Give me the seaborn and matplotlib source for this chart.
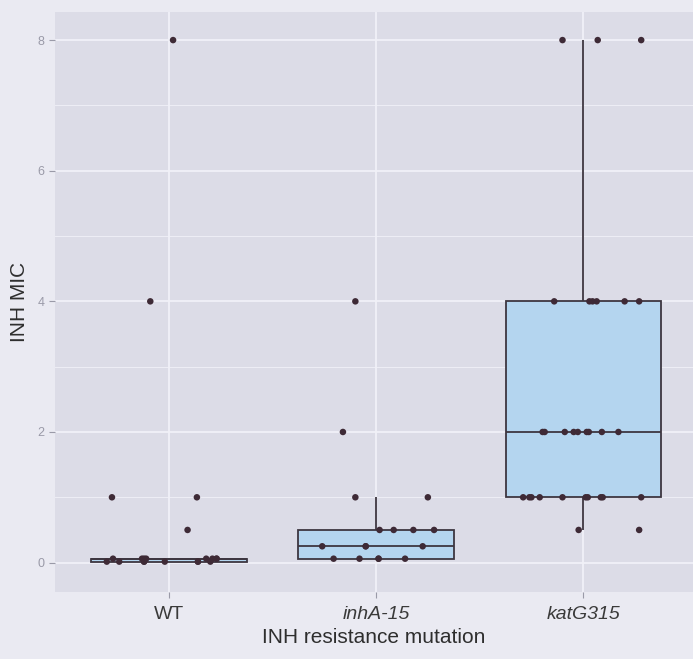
import numpy as np
import pandas as pd
import matplotlib
matplotlib.use("Agg")
import matplotlib.pyplot as plt
import seaborn as sns

# groups and the MIC values (jittered points)
groups = ["WT", "inhA-15", "katG315"]

wt_mic = [8, 4, 1, 1, 0.5,
          0.06, 0.06, 0.06, 0.06, 0.06, 0.06, 0.06, 0.06,
          0.015, 0.015, 0.015, 0.015, 0.015, 0.015, 0.015, 0.015]
wt_jitter = [0.02, -0.09, -0.275, 0.135, 0.09,
             -0.27, -0.13, -0.11, 0.18, 0.23, 0.21, -0.12, 0.23,
             -0.30, -0.24, -0.12, -0.02, 0.14, 0.20, -0.12, 0.14]

inh_mic = [4, 2, 1, 1,
           0.5, 0.5, 0.5, 0.5,
           0.25, 0.25, 0.25, 0.25,
           0.06, 0.06, 0.06, 0.06, 0.06]
inh_jitter = [-0.10, -0.16, -0.10, 0.25,
              0.017, 0.085, 0.18, 0.28,
              -0.26, -0.05, 0.225, -0.05,
              -0.205, -0.08, 0.012, 0.14, 0.012]

kat_mic = [8, 8, 8,
           4, 4, 4, 4, 4, 4,
           2, 2, 2, 2, 2, 2, 2, 2, 2,
           1, 1, 1, 1, 1, 1, 1, 1, 1, 1,
           0.5, 0.5]
kat_jitter = [-0.10, 0.07, 0.28,
              -0.14, 0.03, 0.045, 0.065, 0.20, 0.27,
              -0.196, -0.186, -0.089, -0.046, -0.026, 0.017, 0.027, 0.09, 0.17,
              -0.29, -0.26, -0.25, -0.21, -0.10, 0.012, 0.022, 0.085, 0.094, 0.28,
              -0.022, 0.27]

df = pd.DataFrame({
    "mutation": ["WT"] * len(wt_mic) + ["inhA-15"] * len(inh_mic) + ["katG315"] * len(kat_mic),
    "mic": wt_mic + inh_mic + kat_mic,
    "jitter": wt_jitter + inh_jitter + kat_jitter,
})
df["xpos"] = df["mutation"].map({g: i for i, g in enumerate(groups)}) + df["jitter"]

page_bg = "#eaeaf2"
panel_bg = "#dcdce7"
grid_col = "#f1f1f8"
box_fill = "#b4d5ef"
line_col = "#3d3640"
dot_col = "#3e2a36"

plt.rcParams["font.family"] = ["Liberation Sans Narrow", "Liberation Sans", "DejaVu Sans"]

fig = plt.figure(figsize=(6.93, 6.59), dpi=100, facecolor=page_bg)
ax = fig.add_axes([55 / 693, 67 / 659, 638 / 693, 580 / 659])
ax.set_facecolor(panel_bg)

sns.boxplot(data=df, x="mutation", y="mic", order=groups, width=0.75,
            color=box_fill, linecolor=line_col, linewidth=1.3,
            showfliers=False, showcaps=False, saturation=1, ax=ax, zorder=2)
sns.scatterplot(data=df, x="xpos", y="mic", color=dot_col, s=22,
                edgecolor="none", ax=ax, zorder=3, legend=False)

ax.set_xlim(-0.55, 2.53)
ax.set_ylim(-0.45, 8.43)
ax.set_yticks([0, 2, 4, 6, 8])
ax.set_yticks([1, 3, 5, 7], minor=True)
ax.set_xticks(range(3))
ax.set_xticklabels(groups)
for lab in ax.get_xticklabels()[1:]:
    lab.set_style("italic")

ax.grid(True, which="major", color=grid_col, linewidth=1.3, zorder=0)
ax.grid(True, which="minor", axis="y", color=grid_col, linewidth=0.6, zorder=0)
ax.set_axisbelow(True)
for s in ax.spines.values():
    s.set_visible(False)

ax.tick_params(axis="y", which="major", colors="#9a9aa8", labelsize=9, length=4, width=0.8)
ax.tick_params(axis="y", which="minor", length=0)
ax.tick_params(axis="x", colors="#9a9aa8", labelcolor="#3a3a3a", labelsize=14, length=4, width=0.8, pad=6)

ax.set_xlabel("INH resistance mutation", fontsize=15, color="#2e2e2e", labelpad=4)
ax.set_ylabel("INH MIC", fontsize=15, color="#2e2e2e", labelpad=6)

fig.savefig("out.png", dpi=100, facecolor=page_bg)
